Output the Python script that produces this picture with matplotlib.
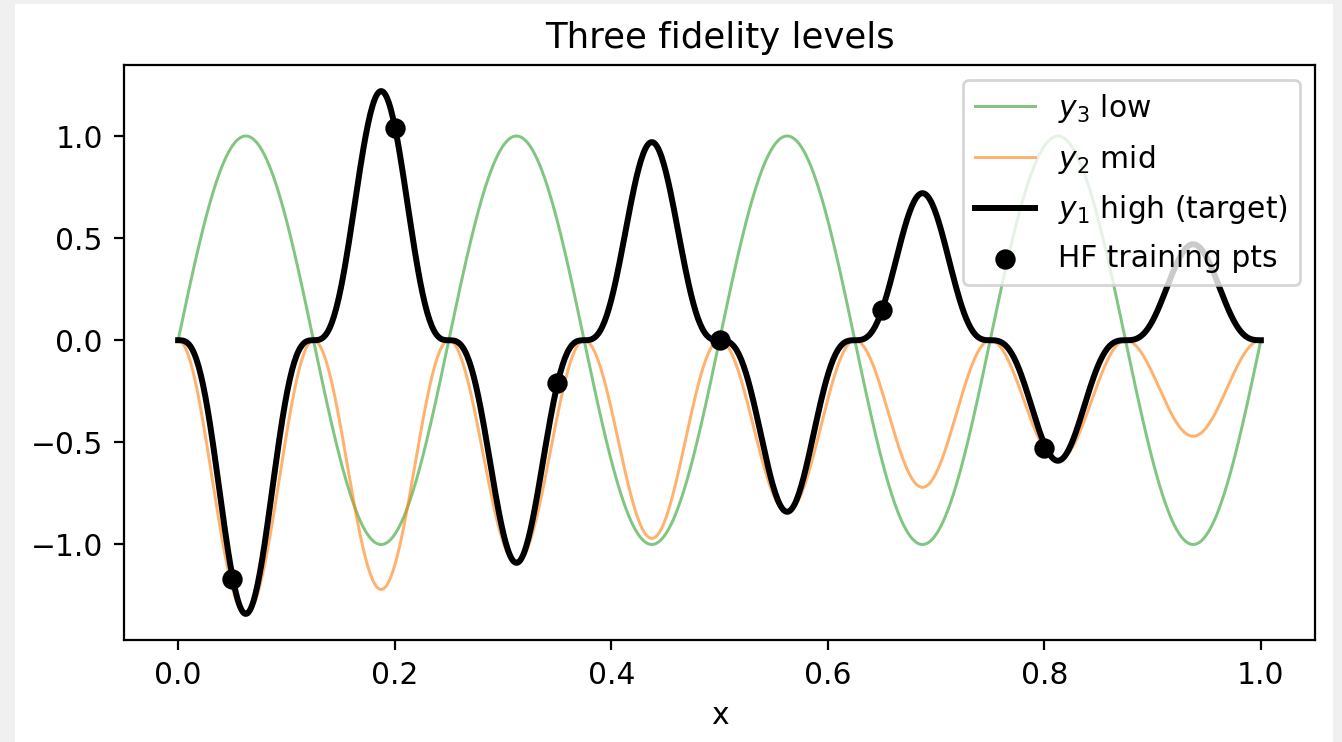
import numpy as np
import matplotlib
matplotlib.use("Agg")
import matplotlib.pyplot as plt
from matplotlib.patches import Rectangle

# lobe layout: 8 half-periods of width 0.125 on [0, 1]
lobe_edges = [0.0, 0.125, 0.25, 0.375, 0.5, 0.625, 0.75, 0.875, 1.0]
low_peaks = [1.0, -1.0, 1.0, -1.0, 1.0, -1.0, 1.0, -1.0]
mid_peaks = [-1.34, -1.22, -1.09, -0.97, -0.84, -0.72, -0.59, -0.47]
high_peaks = [-1.34, 1.22, -1.09, 0.97, -0.84, 0.72, -0.59, 0.47]

# HF training points
hf_x = [0.05, 0.20, 0.35, 0.50, 0.65, 0.80]
hf_y = [-1.17, 1.04, -0.21, 0.0, 0.15, -0.53]


def lobes(peaks, power, n=120):
    xs, ys = [], []
    for i, p in enumerate(peaks):
        a, b = lobe_edges[i], lobe_edges[i + 1]
        t = np.linspace(0, 1, n)
        xs.append(a + (b - a) * t)
        ys.append(p * np.sin(np.pi * t) ** power)
    return np.concatenate(xs), np.concatenate(ys)


x3, y3 = lobes(low_peaks, 1)
x2, y2 = lobes(mid_peaks, 2)
x1, y1 = lobes(high_peaks, 3)

plt.rcParams["font.size"] = 10.7
plt.rcParams["xtick.major.size"] = 3.7
plt.rcParams["ytick.major.size"] = 3.7
plt.rcParams["xtick.major.pad"] = 3.9
plt.rcParams["ytick.major.pad"] = 3.9

fig = plt.figure(figsize=(6.71, 3.71), dpi=200, facecolor="#f0f0f0")
fig.patches.append(Rectangle((15 / 1342, 0), 1318 / 1342, 738 / 742,
                             transform=fig.transFigure, facecolor="white",
                             edgecolor="none", zorder=-10))
ax = fig.add_axes([124 / 1342, 102 / 742, 1191 / 1342, 575 / 742])

ax.plot(x3, y3, color="tab:green", alpha=0.6, lw=1.07, label=r"$y_3$ low")
ax.plot(x2, y2, color="tab:orange", alpha=0.6, lw=1.07, label=r"$y_2$ mid")
ax.plot(x1, y1, color="black", lw=2.15, label=r"$y_1$ high (target)")
ax.scatter(hf_x, hf_y, color="black", s=40, zorder=5, label="HF training pts")

ax.set_title("Three fidelity levels", fontsize=12.8)
ax.set_xlabel("x")
ax.legend(loc="upper right", labelspacing=0.6)

fig.savefig("out.png", dpi=200, facecolor=fig.get_facecolor())
